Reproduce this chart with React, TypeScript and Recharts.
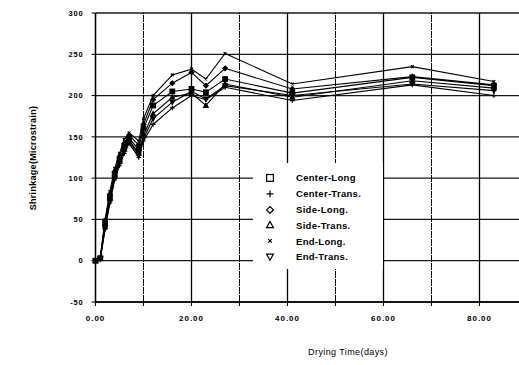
import React from 'react';
import { LineChart, Line, XAxis, YAxis, CartesianGrid, ReferenceLine, Legend } from 'recharts';

const days = [0, 1, 2, 3, 4, 5, 6, 7, 9, 10, 12, 16, 20, 23, 27, 41, 66, 83];
const centerLong = [0, 3, 45, 78, 105, 122, 138, 148, 135, 160, 188, 205, 208, 204, 220, 203, 222, 212];
const centerTrans = [0, 2, 38, 70, 98, 115, 130, 142, 125, 145, 165, 185, 200, 195, 210, 194, 213, 200];
const sideLong = [0, 4, 48, 80, 108, 126, 142, 152, 140, 165, 195, 215, 228, 212, 233, 208, 223, 213];
const sideTrans = [0, 3, 42, 75, 102, 120, 135, 146, 130, 152, 178, 198, 203, 188, 214, 198, 218, 209];
const endLong = [0, 5, 50, 84, 112, 130, 147, 155, 145, 172, 200, 225, 232, 220, 251, 214, 235, 217];
const endTrans = [0, 2, 40, 72, 100, 118, 133, 144, 128, 148, 172, 192, 205, 196, 212, 200, 214, 206];

const seriesNames = ['Center-Long', 'Center-Trans.', 'Side-Long.', 'Side-Trans.', 'End-Long.', 'End-Trans.'];
const seriesKeys = ['cl', 'ct', 'sl', 'st', 'el', 'et'];
const seriesShapes = ['square', 'plus', 'diamond', 'triangle', 'x', 'down'];
const seriesValues = [centerLong, centerTrans, sideLong, sideTrans, endLong, endTrans];

const xTicks = [0, 10, 20, 30, 40, 50, 60, 70, 80, 90];
const xLabelTicks = [0, 20, 40, 60, 80];
const yTicks = [-50, 0, 50, 100, 150, 200, 250, 300];

const data = days.map((d, i) => {
  const row: Record<string, number> = { day: d };
  seriesKeys.forEach((k, j) => {
    row[k] = seriesValues[j][i];
  });
  return row;
});

const FONT = '"Liberation Sans", Arial, sans-serif';

function Marker({ shape, cx, cy, s, fill }: { shape: string; cx: number; cy: number; s: number; fill: string }) {
  const sw = 1.2;
  switch (shape) {
    case 'square':
      return <rect x={cx - s} y={cy - s} width={2 * s} height={2 * s} fill={fill} stroke="#000" strokeWidth={sw} />;
    case 'plus':
      return <path d={`M${cx - s},${cy}H${cx + s}M${cx},${cy - s}V${cy + s}`} stroke="#000" strokeWidth={sw} fill="none" />;
    case 'diamond':
      return <path d={`M${cx},${cy - s}L${cx + s},${cy}L${cx},${cy + s}L${cx - s},${cy}Z`} fill={fill} stroke="#000" strokeWidth={sw} />;
    case 'triangle':
      return <path d={`M${cx},${cy - s}L${cx + s},${cy + s * 0.8}L${cx - s},${cy + s * 0.8}Z`} fill={fill} stroke="#000" strokeWidth={sw} />;
    case 'x': {
      const t = s * 0.6;
      return <path d={`M${cx - t},${cy - t}L${cx + t},${cy + t}M${cx - t},${cy + t}L${cx + t},${cy - t}`} stroke="#000" strokeWidth={sw} fill="none" />;
    }
    case 'down':
      return <path d={`M${cx},${cy + s}L${cx + s},${cy - s * 0.8}L${cx - s},${cy - s * 0.8}Z`} fill={fill} stroke="#000" strokeWidth={sw} />;
    default:
      return null;
  }
}

function LegendBox() {
  return (
    <div
      style={{
        background: '#fff',
        width: 130,
        height: 106,
        paddingTop: 7,
        boxSizing: 'border-box',
        fontFamily: FONT,
        fontWeight: 700,
        fontSize: 9.5,
        color: '#000',
      }}
    >
      {seriesNames.map((n, i) => (
        <div key={n} style={{ height: 15.8, display: 'flex', alignItems: 'center' }}>
          <svg width={34} height={15.8} style={{ flex: 'none' }}>
            <Marker shape={seriesShapes[i]} cx={17} cy={7.9} s={i === 4 ? 3 : 3.4} fill="#fff" />
          </svg>
          <span style={{ marginLeft: 9, letterSpacing: 0.3, whiteSpace: 'nowrap' }}>{n}</span>
        </div>
      ))}
    </div>
  );
}

export default function App() {
  return (
    <div style={{ position: 'absolute', left: 0, top: 0, width: 519, height: 365, overflow: 'hidden', background: '#fff' }}>
      <LineChart width={540} height={365} data={data} margin={{ top: 13, right: 12.5, bottom: 33, left: 0 }}>
        <CartesianGrid horizontal vertical={false} stroke="#000" strokeWidth={1.3} strokeOpacity={0.9} />
        {xTicks.map((t) => (
          <ReferenceLine
            key={t}
            x={t}
            stroke="#000"
            strokeWidth={t % 20 === 0 ? 1.3 : 1}
            strokeDasharray={t % 20 === 0 ? undefined : '7 1'}
          />
        ))}
        <XAxis
          dataKey="day"
          type="number"
          domain={[0, 90]}
          ticks={xTicks}
          height={30}
          tickSize={4}
          tickMargin={9}
          axisLine={{ stroke: '#000', strokeWidth: 1.3 }}
          tickLine={{ stroke: '#000', strokeWidth: 1 }}
          tickFormatter={(v: number) => (xLabelTicks.includes(v) ? v.toFixed(2) : '')}
          tick={{ fill: '#000', fontSize: 8, fontWeight: 700, fontFamily: FONT, letterSpacing: 1 }}
          interval={0}
        />
        <YAxis
          type="number"
          domain={[-50, 300]}
          ticks={yTicks}
          width={95.5}
          tickSize={4}
          tickMargin={8}
          axisLine={{ stroke: '#000', strokeWidth: 1.3 }}
          tickLine={{ stroke: '#000', strokeWidth: 1 }}
          tick={{ fill: '#000', fontSize: 7.5, fontWeight: 700, fontFamily: FONT, letterSpacing: 0.8 }}
          interval={0}
        />
        {seriesKeys.map((k, i) => (
          <Line
            key={k}
            dataKey={k}
            name={seriesNames[i]}
            type="linear"
            stroke="#000"
            strokeWidth={1.1}
            isAnimationActive={false}
            dot={(p: any) => (
              <g key={`${k}-${p.index}`}>
                <Marker shape={seriesShapes[i]} cx={p.cx} cy={p.cy} s={2.3} fill="#000" />
              </g>
            )}
            activeDot={false}
          />
        ))}
        <Legend
          layout="vertical"
          align="center"
          verticalAlign="middle"
          content={() => <LegendBox />}
          wrapperStyle={{ left: 253, top: 163, width: 130, height: 106 }}
        />
      </LineChart>
      <div
        style={{
          position: 'absolute',
          left: 33,
          top: 158,
          transform: 'translate(-50%, -50%) rotate(-90deg)',
          whiteSpace: 'nowrap',
          fontFamily: FONT,
          fontSize: 9,
          fontWeight: 700,
          letterSpacing: 0.3,
          color: '#000',
        }}
      >
        Shrinkage(Microstrain)
      </div>
      <div
        style={{
          position: 'absolute',
          left: 348,
          top: 352,
          transform: 'translate(-50%, -50%)',
          whiteSpace: 'nowrap',
          fontFamily: FONT,
          fontSize: 9,
          color: '#000',
          letterSpacing: 0.4,
        }}
      >
        Drying Time(days)
      </div>
    </div>
  );
}
